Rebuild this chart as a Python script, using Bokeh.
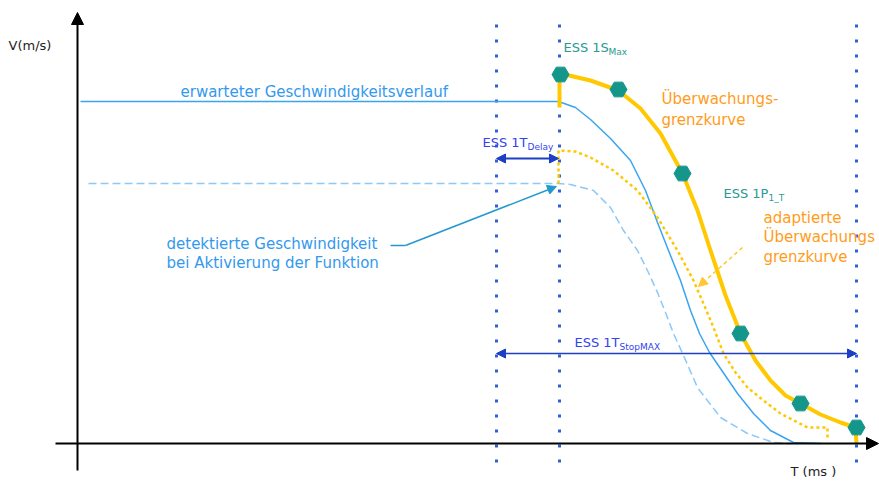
from bokeh.plotting import figure
from bokeh.models import Range1d, Arrow, NormalHead
from bokeh.core.properties import value
from bokeh.embed import file_html
from bokeh.resources import INLINE

# ---------------- data (x: time units, y: speed units) ----------------
# expected speed course (solid light blue)
exp_x = [3, 481, 498, 513, 533, 553, 568, 580, 591, 603, 613, 622, 632, 645, 660, 676, 693, 716, 743]
exp_y = [342, 342, 336, 324, 305, 283, 253, 221, 193, 163, 133, 110, 91, 72, 50, 30, 13, 1, 0]

# detected speed at activation (dashed light blue)
det_x = [11, 481, 493, 516, 533, 546, 560, 570, 580, 588, 596, 606, 620, 643, 670, 696, 713]
det_y = [260, 260, 259, 253, 236, 213, 193, 173, 151, 131, 110, 88, 56, 26, 10, 1, 0]

# adapted monitoring limit curve (dotted yellow)
ada_x = [481, 481, 498, 513, 536, 560, 580, 600, 616, 626, 636, 646, 658, 670, 686, 703, 730, 750, 750]
ada_y = [260, 293, 292, 286, 273, 253, 226, 193, 163, 140, 116, 90, 71, 56, 43, 30, 16, 16, 3]

# monitoring limit curve (thick yellow)
mon_x = [482, 482, 483, 513, 541, 563, 583, 605, 620, 633, 648, 663, 678, 693, 708, 723, 743, 763, 778, 779]
mon_y = [336, 370, 370, 363, 353, 335, 310, 270, 233, 193, 148, 110, 83, 63, 48, 40, 29, 21, 16, 0]

# ESS 1S / P points on the monitoring curve
pts_x = [483, 541, 605, 663, 723, 779]
pts_y = [369, 354, 270, 110, 40, 16]

# vertical reference times (dotted)
t_marks = [419, 482, 779]

# ---------------- figure ----------------
p = figure(width=879, height=484, x_range=Range1d(-77, 802), y_range=Range1d(-41, 443),
           output_backend="svg", toolbar_location=None, x_axis_type=None, y_axis_type=None,
           min_border=0, min_border_left=0, min_border_right=0, min_border_top=0, min_border_bottom=0)
p.grid.visible = False
p.outline_line_color = None
p.background_fill_color = "white"

FONT = value("DejaVu Sans")
FS = "15px"
FS2 = "13px"

# axes
p.add_layout(Arrow(x_start=-22, y_start=0, x_end=801, y_end=0, line_color="black", line_width=2,
                   end=NormalHead(size=12, fill_color="black", line_color="black")))
p.add_layout(Arrow(x_start=0, y_start=-27, x_end=0, y_end=431, line_color="black", line_width=2,
                   end=NormalHead(size=12, fill_color="black", line_color="black")))

# dotted verticals
for t in t_marks:
    p.line([t, t], [-19, 428], line_color="#3060d8", line_width=3, line_dash="3 12")

# curves
p.line(det_x, det_y, line_color="#8cc8f8", line_width=1.5, line_dash="8 4")
p.line(exp_x, exp_y, line_color="#3aa4f0", line_width=1.5)
p.line(ada_x, ada_y, line_color="#ffc800", line_width=2.5, line_dash="3 3")
p.line(mon_x, mon_y, line_color="#ffc800", line_width=4)
p.scatter(pts_x, pts_y, marker="hex", size=17, fill_color="#14978a", line_color="#14978a")

# double arrows
p.add_layout(Arrow(x_start=419, y_start=285, x_end=481, y_end=285, line_color="#1d3fc4", line_width=2,
                   start=NormalHead(size=9, fill_color="#1d3fc4", line_color="#1d3fc4"),
                   end=NormalHead(size=9, fill_color="#1d3fc4", line_color="#1d3fc4")))
p.add_layout(Arrow(x_start=419, y_start=90, x_end=779, y_end=90, line_color="#1d3fc4", line_width=1.5,
                   start=NormalHead(size=9, fill_color="#1d3fc4", line_color="#1d3fc4"),
                   end=NormalHead(size=9, fill_color="#1d3fc4", line_color="#1d3fc4")))

# callout for detected speed
p.line([313, 328], [198, 198], line_color="#2299cc", line_width=1.5)
p.add_layout(Arrow(x_start=328, y_start=198, x_end=479, y_end=257, line_color="#2299cc", line_width=1.5,
                   end=NormalHead(size=9, fill_color="#2299cc", line_color="#2299cc")))

# callout for adapted curve
p.add_layout(Arrow(x_start=665, y_start=196, x_end=621, y_end=157, line_color="#ffc833", line_width=1.5,
                   line_dash="4 3", end=NormalHead(size=9, fill_color="#ffc833", line_color="#ffc833")))

def txt(x, y, s, color, size=FS, baseline="middle"):
    p.text([x], [y], text=[s], text_color=color, text_font=FONT, text_font_size=size,
           text_baseline=baseline, text_align="left")

# axis labels
txt(-69, 398, "V(m/s)", "#222222", size=FS2)
txt(713, -28, "T (ms )", "#222222", size=FS2)

# annotations
txt(103, 352, "erwarteter Geschwindigkeitsverlauf", "#3399ee")
txt(89, 200, "detektierte Geschwindigkeit", "#3399ee")
txt(89, 181, "bei Aktivierung der Funktion", "#3399ee")

txt(486, 396, "ESS 1S", "#2a9a92", size=FS2)
txt(531, 392, "Max", "#2a9a92", size="9px")

txt(584, 345, "Überwachungs-", "#ff9c1a")
txt(584, 324, "grenzkurve", "#ff9c1a")

txt(646, 250, "ESS 1P", "#2a9a92", size=FS2)
txt(691, 246, "1_T", "#2a9a92", size="9px")

txt(686, 226, "adaptierte", "#ff9c1a")
txt(686, 207, "Überwachungs", "#ff9c1a")
txt(686, 187, "grenzkurve", "#ff9c1a")

txt(405, 301, "ESS 1T", "#3344ee", size=FS2)
txt(450, 297, "Delay", "#3344ee", size="9px")

txt(497, 101, "ESS 1T", "#3344ee", size=FS2)
txt(542, 97, "StopMAX", "#3344ee", size="9px")

open("out.html", "w").write(file_html(p, INLINE))
